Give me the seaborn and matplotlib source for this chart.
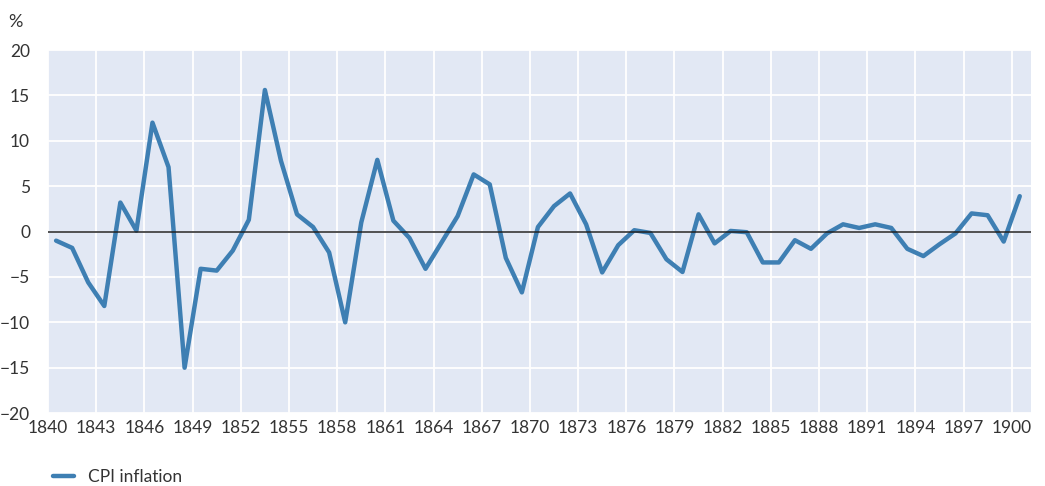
import numpy as np
import pandas as pd
import seaborn as sns
import matplotlib.pyplot as plt

# Annual CPI inflation, %, 1840-1900
years = list(range(1840, 1901))
cpi_inflation = [
    -1.0, -1.8, -5.6, -8.2, 3.2, 0.1, 12.0, 7.1, -15.0, -4.1,
    -4.3, -2.1, 1.3, 15.6, 7.8, 1.9, 0.5, -2.3, -10.0, 1.0,
    7.9, 1.2, -0.7, -4.1, -1.2, 1.7, 6.3, 5.2, -2.9, -6.7,
    0.5, 2.8, 4.2, 0.8, -4.5, -1.5, 0.15, -0.15, -3.05, -4.45,
    1.9, -1.3, 0.07, -0.07, -3.4, -3.4, -0.95, -1.9, -0.2, 0.8,
    0.4, 0.8, 0.4, -1.9, -2.7, -1.4, -0.2, 2.0, 1.8, -1.1,
    3.9,
]
tick_years = list(range(1840, 1901, 3))
y_ticks = [-20, -15, -10, -5, 0, 5, 10, 15, 20]

df = pd.DataFrame({"year": years, "CPI inflation": cpi_inflation})
# each year is drawn in the middle of its slot
df["pos"] = df["year"] + 0.5

sns.set_theme(style="darkgrid", rc={
    "axes.facecolor": "#e2e8f4",
    "grid.color": "white",
    "grid.linewidth": 1.3,
    "xtick.major.size": 0,
    "ytick.major.size": 0,
})
plt.rcParams["font.family"] = ["Lato", "DejaVu Sans"]

fig = plt.figure(figsize=(10.45, 4.86), dpi=100)
ax = fig.add_axes([0.046, 0.150, 0.9406, 0.747])

sns.lineplot(data=df, x="pos", y="CPI inflation", ax=ax, color="#3e7fb3",
             linewidth=3.2, label="CPI inflation", legend=False)
ax.axhline(0, color="#222222", linewidth=1.1, zorder=3)

ax.set_xlim(1840, 1901.2)
ax.set_ylim(-20, 20)
ax.set_xticks(tick_years)
ax.set_xticklabels([str(y) for y in tick_years])
ax.set_yticks(y_ticks)
ax.tick_params(axis="both", labelsize=12.5, colors="#333333", length=0)
ax.tick_params(axis="y", pad=13)
ax.tick_params(axis="x", pad=5)
ax.set_xlabel("")
ax.set_ylabel("")
for s in ax.spines.values():
    s.set_visible(False)

fig.text(0.008, 0.955, "%", fontsize=13, color="#333333", va="center", ha="left")

handles, labels = ax.get_legend_handles_labels()
fig.legend(handles, labels, loc="center left", bbox_to_anchor=(0.036, 0.018),
           frameon=False, fontsize=12.5, handlelength=1.2, handletextpad=0.8,
           labelcolor="#333333")

fig.savefig("out.png", dpi=100)
